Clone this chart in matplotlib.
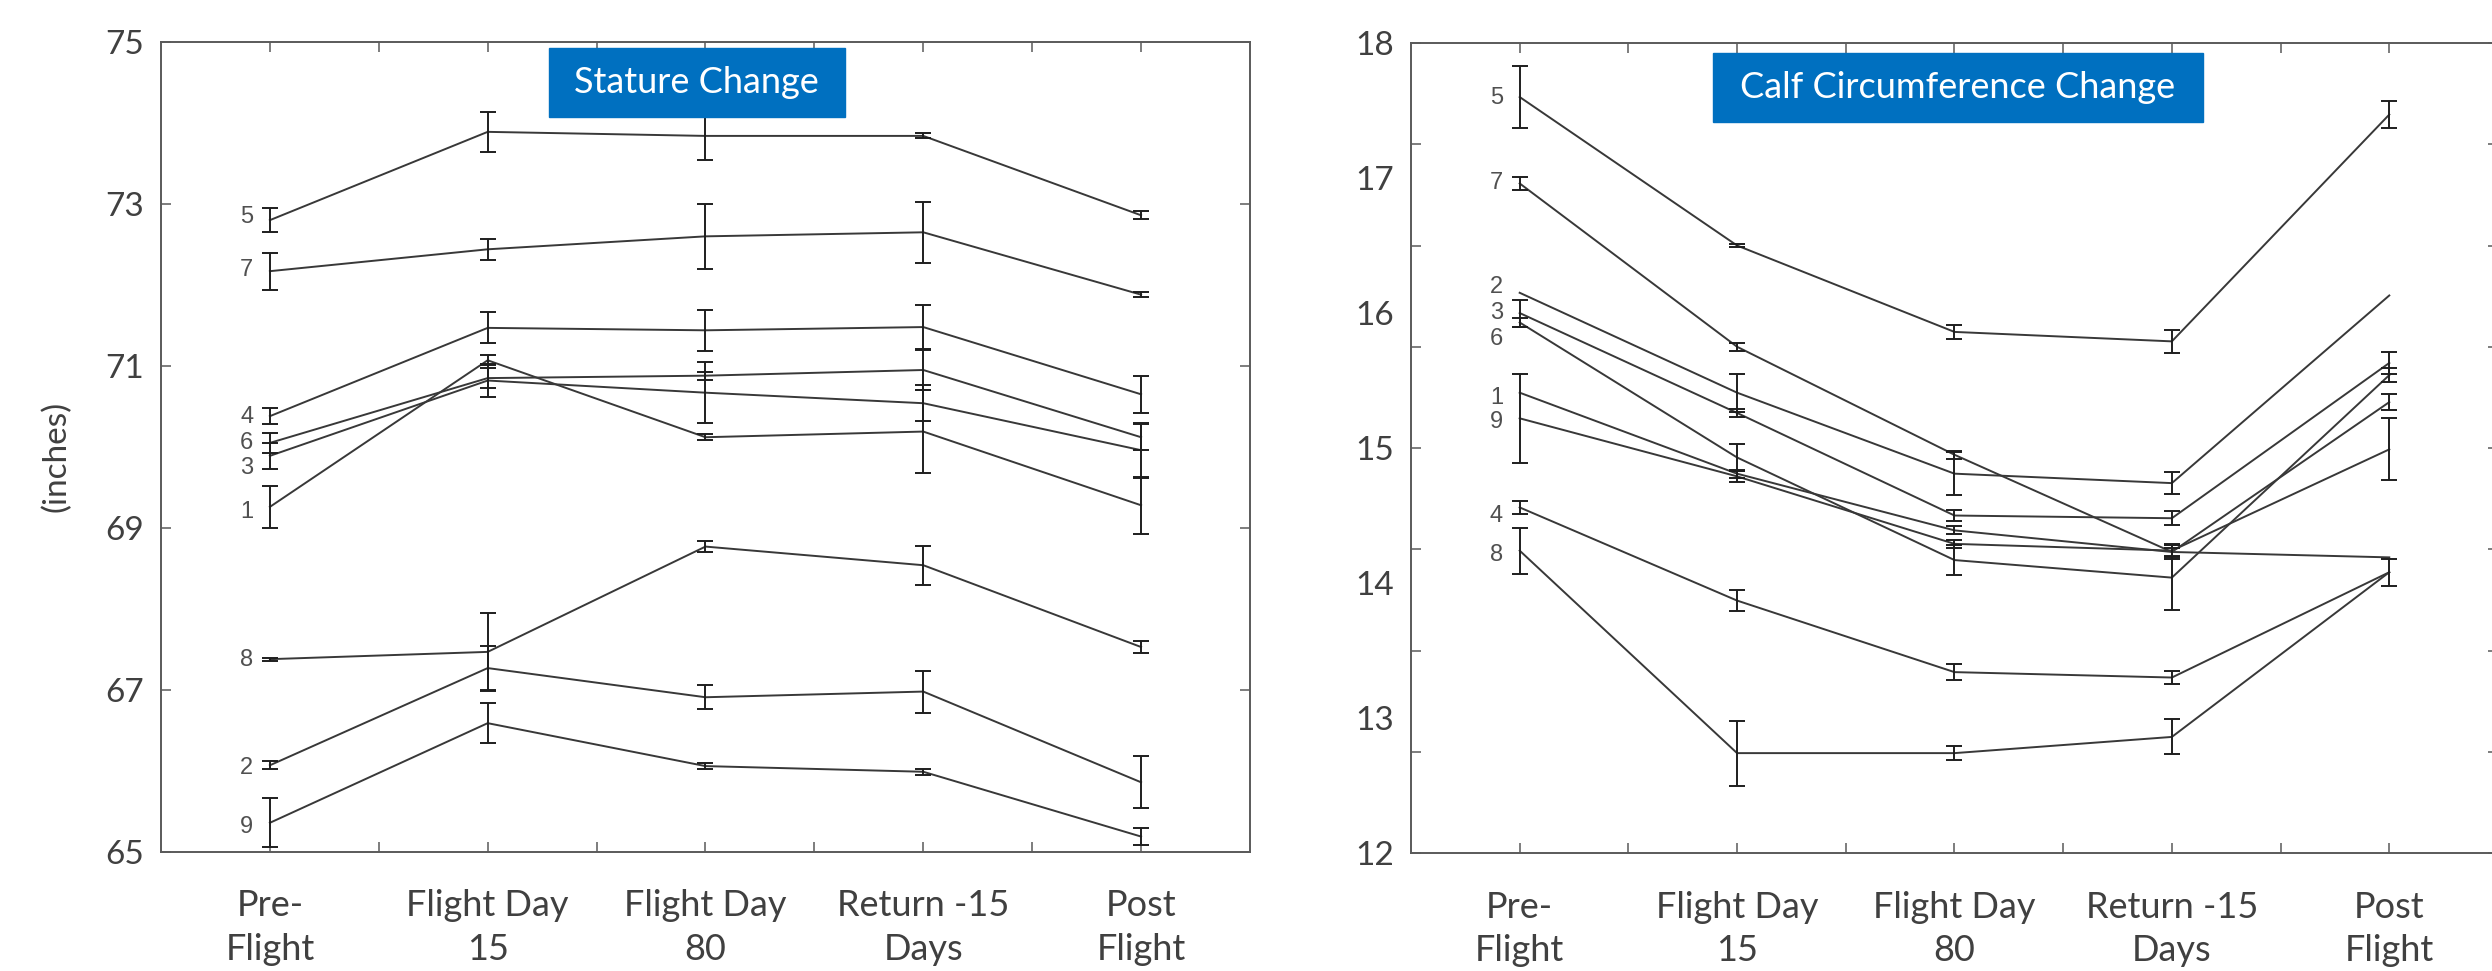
import numpy as np
import matplotlib.pyplot as plt
from matplotlib.patches import Rectangle

plt.rcParams['font.family'] = ['Lato', 'DejaVu Sans']

# x categories (shared by both panels)
phases = ['Pre-\nFlight', 'Flight Day\n15', 'Flight Day\n80', 'Return -15\nDays', 'Post\nFlight']

# ---- Stature (inches), one row per subject, columns follow phases ----
stature_ids = ['5', '7', '4', '6', '3', '1', '8', '2', '9']
stature = [
    [72.80, 73.89, 73.84, 73.84, 72.86],
    [72.17, 72.44, 72.60, 72.65, 71.88],
    [70.38, 71.47, 71.44, 71.48, 70.65],
    [70.05, 70.85, 70.88, 70.95, 70.12],
    [69.89, 70.82, 70.67, 70.54, 69.96],
    [69.26, 71.07, 70.12, 70.19, 69.28],
    [67.38, 67.47, 68.77, 68.54, 67.53],
    [66.07, 67.27, 66.91, 66.98, 65.86],
    [65.36, 66.59, 66.06, 65.99, 65.19],
]
stature_err = [
    [0.15, 0.25, 0.30, 0.03, 0.05],
    [0.23, 0.13, 0.40, 0.38, 0.03],
    [0.10, 0.19, 0.25, 0.27, 0.23],
    [0.12, 0.12, 0.05, 0.25, 0.16],
    [0.16, 0.20, 0.38, 0.22, 0.34],
    [0.26, 0.06, 0.04, 0.51, 0.35],
    [0.02, 0.48, 0.07, 0.24, 0.07],
    [0.05, 0.27, 0.15, 0.26, 0.32],
    [0.30, 0.25, 0.04, 0.04, 0.10],
]
stature_label_y = [72.84, 72.19, 70.37, 70.05, 69.74, 69.20, 67.37, 66.04, 65.31]
stature_ticks = [65, 67, 69, 71, 73, 75]

# ---- Calf circumference (inches) ----
calf_ids = ['5', '7', '2', '3', '6', '1', '9', '4', '8']
calf = [
    [17.60, 16.50, 15.86, 15.79, 17.47],
    [16.96, 15.75, 14.95, 14.23, 14.19],
    [16.15, 15.41, 14.81, 14.74, 16.13],
    [16.00, 15.26, 14.50, 14.48, 15.63],
    [15.93, 14.93, 14.17, 14.04, 15.54],
    [15.41, 14.81, 14.39, 14.23, 15.34],
    [15.22, 14.79, 14.29, 14.24, 14.99],
    [14.56, 13.87, 13.34, 13.30, 14.08],
    [14.24, 12.74, 12.74, 12.86, 14.08],
]
calf_err = [
    [0.23, 0.01, 0.05, 0.085, 0.10],
    [0.05, 0.03, 0.03, 0.05, 0.00],
    [0.00, 0.14, 0.16, 0.08, 0.00],
    [0.10, 0.03, 0.04, 0.05, 0.08],
    [0.03, 0.10, 0.11, 0.24, 0.05],
    [0.00, 0.03, 0.03, 0.03, 0.06],
    [0.33, 0.04, 0.03, 0.05, 0.23],
    [0.05, 0.08, 0.06, 0.05, 0.10],
    [0.17, 0.24, 0.05, 0.13, 0.00],
]
calf_label_y = [17.59, 16.96, 16.19, 16.00, 15.81, 15.37, 15.19, 14.50, 14.21]
calf_labels = [12, 13, 14, 15, 16, 17, 18]

x = np.arange(1, len(phases) + 1)

fig = plt.figure(figsize=(24.92, 9.71), dpi=100)
ax1 = fig.add_axes([0.0646, 0.1226, 0.4370, 0.8342])
# right frame runs just past the picture edge, only its inward ticks show
ax2 = fig.add_axes([0.5662, 0.1215, 0.4362, 0.8342])


def draw_series(ax, ids, values, errors, label_y):
    for name, vals, err, ly in zip(ids, values, errors, label_y):
        vals = np.array(vals)
        err = np.array(err)
        ax.plot(x, vals, color='#383838', lw=1.4, zorder=2)
        keep = err > 0
        ax.errorbar(x[keep], vals[keep], yerr=err[keep], fmt='none', ecolor='#1e1e1e',
                    elinewidth=1.4, capsize=6, capthick=1.4, zorder=3)
        ax.annotate(name, xy=(x[0], ly), xytext=(-12, 0), textcoords='offset points',
                    ha='right', va='center', fontsize=17, color='#505050',
                    family='Liberation Sans')


def style_axes(ax):
    for s in ax.spines.values():
        s.set_color('#5a5a5a')
        s.set_linewidth(1.4)
    # keep label ticks even where they sit on a tick mark
    ax.xaxis.remove_overlapping_locs = False
    ax.yaxis.remove_overlapping_locs = False
    ax.set_xlim(0.5, 5.5)
    # tick marks every half step, labels only at the phases
    ax.set_xticks(np.arange(1, 5.01, 0.5))
    ax.set_xticks(x, labels=phases, minor=True)
    ax.tick_params(which='major', direction='in', length=7, width=1.1, color='#5a5a5a',
                   top=True, right=True, labelbottom=False, labelleft=False)
    ax.tick_params(which='minor', length=0, labelcolor='#404040')
    ax.tick_params(axis='x', which='minor', labelsize=26, pad=27)
    ax.tick_params(axis='y', which='minor', labelsize=24, pad=12)


def title_box(ax, x0, y0, w, h, text):
    ax.add_patch(Rectangle((x0, y0), w, h, transform=ax.transAxes, color='#0070C0',
                           zorder=5, clip_on=False))
    ax.text(x0 + w / 2, y0 + h / 2, text, transform=ax.transAxes, color='white',
            fontsize=26, ha='center', va='center', zorder=6)


# left panel: stature
draw_series(ax1, stature_ids, stature, stature_err, stature_label_y)
style_axes(ax1)
ax1.set_ylim(65, 75)
ax1.set_yticks(stature_ticks)
ax1.set_yticks(stature_ticks, labels=[str(v) for v in stature_ticks], minor=True)
ax1.set_ylabel('(inches)', fontsize=24, color='#404040')
ax1.yaxis.set_label_coords(-0.0964, 0.4877)
ax1.yaxis.label.set_va('center')
title_box(ax1, 0.356, 0.9074, 0.272, 0.0852, 'Stature Change')

# right panel: calf circumference (marks every 0.75, labels at whole inches)
draw_series(ax2, calf_ids, calf, calf_err, calf_label_y)
style_axes(ax2)
ax2.set_ylim(12, 18)
ax2.set_yticks(np.arange(12, 18.01, 0.75))
ax2.set_yticks(calf_labels, labels=[str(v) for v in calf_labels], minor=True)
title_box(ax2, 0.2778, 0.9025, 0.4505, 0.0852, 'Calf Circumference Change')

for ax in (ax1, ax2):
    for t in ax.get_xticklabels(minor=True):
        t.set_linespacing(1.4)

fig.savefig('out.png', dpi=100)
